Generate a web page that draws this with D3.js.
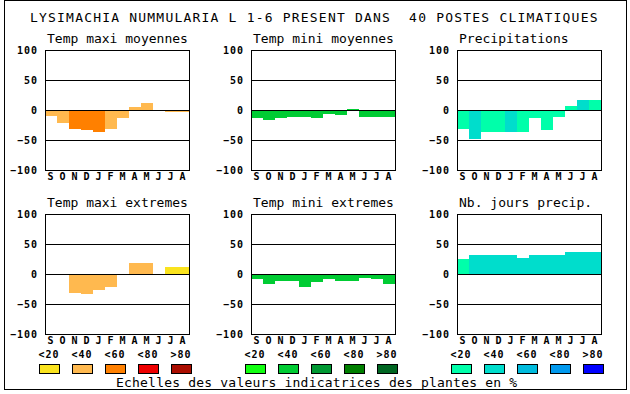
<!DOCTYPE html>
<html>
<head>
<meta charset="utf-8">
<script src="https://cdn.jsdelivr.net/npm/d3@7"></script>
<style>
  body { margin: 0; background: #fff; }
  svg text { font-family: "DejaVu Sans Mono", monospace; fill: #000; }
  .bold { font-weight: bold; font-size: 10px; letter-spacing: 1px; }
</style>
</head>
<body>
<div id="chart"></div>
<script>
// ---- data ----
var mainTitle = "LYSIMACHIA NUMMULARIA L 1-6 PRESENT DANS  40 POSTES CLIMATIQUES";
var footNote = "Echelles des valeurs indicatrices des plantes en %";
var months = ["S","O","N","D","J","F","M","A","M","J","J","A"];
var yTicks = [100, 50, 0, -50, -100];
var gridValues = [50, 0, -50];
var classLabels = ["<20","<40","<60","<80",">80"];

var orangeScale = ["#fae31e","#ffb94f","#ff8000","#ee0000","#aa0d00"];
var greenScale  = ["#11ff11","#00cc33","#009933","#007f00","#006622"];
var blueScale   = ["#00ffaa","#00ddcc","#00bbdd","#0099ee","#0000ff"];

var panelTitles = ["Temp maxi moyennes","Temp mini moyennes","Precipitations",
                   "Temp maxi extremes","Temp mini extremes","Nb. jours precip."];

var tmaxMoy      = [-10,-22,-31,-33,-36,-32,-13,5,11,-2,-4,-4];
var tmaxMoyClass = [1,1,2,2,2,1,1,1,1,1,1,1];
var tminMoy      = [-14,-16,-13,-11,-11,-14,-6,-8,2,-11,-11,-11];
var tminMoyClass = [1,1,1,1,1,1,1,1,1,1,1,1];
var precip       = [-32,-49,-37,-36,-37,-37,-14,-34,-11,7,16,16];
var precipClass  = [0,1,0,0,1,0,0,0,0,0,1,0];
var tmaxExt      = [-2,-2,-31,-34,-26,-22,-2,18,18,0,11,12];
var tmaxExtClass = [1,1,1,1,1,1,1,1,1,1,0,0];
var tminExt      = [-8,-16,-12,-12,-21,-14,-8,-12,-12,-6,-8,-17];
var tminExtClass = [1,1,1,1,1,1,1,1,1,1,1,1];
var nbJours      = [25,32,31,32,32,26,31,31,32,36,37,37];
var nbJoursClass = [0,1,1,1,1,1,1,1,1,1,1,1];

var panelValues  = [tmaxMoy, tminMoy, precip, tmaxExt, tminExt, nbJours];
var panelClasses = [tmaxMoyClass, tminMoyClass, precipClass, tmaxExtClass, tminExtClass, nbJoursClass];
var panelScales  = [orangeScale, greenScale, blueScale, orangeScale, greenScale, blueScale];
var legendScales = [orangeScale, greenScale, blueScale];

// ---- layout ----
var W = 630, H = 394,
    plotW = 144, plotH = 120,
    left0 = 45, colStep = 206,
    top0 = 50, rowStep = 164;

var svg = d3.select("#chart").append("svg")
  .attr("width", W).attr("height", H);

svg.append("rect")
  .attr("x", 4.5).attr("y", 0.5)
  .attr("width", 622).attr("height", 389)
  .attr("fill", "none").attr("stroke", "#000");

svg.append("text")
  .attr("x", 30).attr("y", 22)
  .style("font-size", "13px").style("letter-spacing", "1.2px")
  .attr("xml:space", "preserve")
  .text(mainTitle);

var x = d3.scaleBand().domain(d3.range(months.length)).range([0, plotW]);
var y = d3.scaleLinear().domain([-100, 100]).range([plotH, 0]);

panelTitles.forEach(function(title, p){
  var col = p % 3, row = Math.floor(p / 3);
  var g = svg.append("g")
    .attr("transform", "translate(" + (left0 + col*colStep) + "," + (top0 + row*rowStep) + ")");
  var vals = panelValues[p], cls = panelClasses[p], pal = panelScales[p];

  g.append("text")
    .attr("x", 2).attr("y", -7)
    .style("font-size", "13px")
    .text(title);

  g.selectAll(".bar")
    .data(vals)
    .enter().append("rect")
    .attr("class", "bar")
    .attr("x", function(d, i){ return x(i); })
    .attr("width", x.bandwidth())
    .attr("y", function(d){ return y(Math.max(0, d)); })
    .attr("height", function(d){ return Math.abs(y(d) - y(0)); })
    .attr("fill", function(d, i){ return pal[cls[i]]; })
    .attr("shape-rendering", "crispEdges");

  g.selectAll(".grid")
    .data(gridValues)
    .enter().append("line")
    .attr("class", "grid")
    .attr("x1", 0).attr("x2", plotW)
    .attr("y1", function(d){ return y(d) + 0.5; })
    .attr("y2", function(d){ return y(d) + 0.5; })
    .attr("stroke", "#000")
    .attr("shape-rendering", "crispEdges");

  g.append("rect")
    .attr("x", 0.5).attr("y", 0.5)
    .attr("width", plotW).attr("height", plotH)
    .attr("fill", "none").attr("stroke", "#000")
    .attr("shape-rendering", "crispEdges");

  var ya = g.append("g")
    .call(d3.axisLeft(y).tickValues(yTicks).tickSize(0).tickPadding(7));
  ya.select(".domain").remove();
  ya.selectAll("text").attr("class", "bold").attr("font-family", null).attr("font-size", null);

  var xa = g.append("g")
    .attr("transform", "translate(0," + plotH + ")")
    .call(d3.axisBottom(x).tickSize(0).tickPadding(3).tickFormat(function(i){ return months[i]; }));
  xa.select(".domain").remove();
  xa.selectAll("text").attr("class", "bold").attr("font-family", null).attr("font-size", null);
});

// ---- legend ----
var lx = d3.scalePoint().domain(d3.range(classLabels.length)).range([0, 132]);
legendScales.forEach(function(pal, k){
  var g = svg.append("g").attr("transform", "translate(" + (left0 - 6 + k*colStep) + ",0)");
  g.selectAll(".lab")
    .data(classLabels)
    .enter().append("text")
    .attr("class", "bold")
    .attr("x", function(d, i){ return lx(i) + 10; })
    .attr("y", 358)
    .attr("text-anchor", "middle")
    .text(function(d){ return d; });
  g.selectAll(".sw")
    .data(pal)
    .enter().append("rect")
    .attr("x", function(d, i){ return lx(i) + 0.5; })
    .attr("y", 364.5)
    .attr("width", 20).attr("height", 9)
    .attr("fill", function(d){ return d; })
    .attr("stroke", "#000")
    .attr("shape-rendering", "crispEdges");
});

svg.append("text")
  .attr("x", 116).attr("y", 387)
  .style("font-size", "13px").style("letter-spacing", "0.2px")
  .text(footNote);
</script>
</body>
</html>
